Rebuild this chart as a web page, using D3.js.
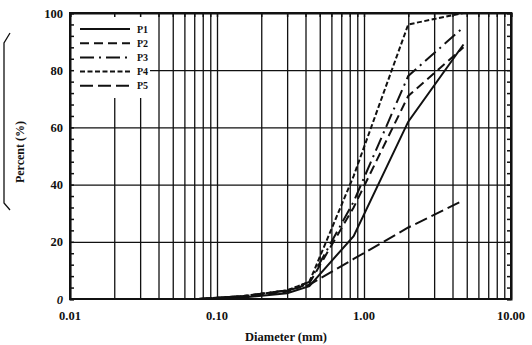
<!DOCTYPE html>
<html lang="en">
<head>
<meta charset="UTF-8">
<script src="https://d3js.org/d3.v7.min.js"></script>
<style>
  body { margin: 0; background: #fff; }
  svg text { font-family: "Liberation Serif", "Times New Roman", serif; font-weight: bold; fill: #111; }
</style>
</head>
<body>
<svg id="chart" width="532" height="345"></svg>
<script>
// sieve sizes (mm) and percent passing for each sample
const sieves = [0.075, 0.15, 0.3, 0.425, 0.85, 2.0, 4.75];
const P1 = [0, 0.5, 2, 4.5, 22, 62, 89];
const P2 = [0, 1, 2.5, 5.5, 32, 71, 88];
const P3 = [0, 1, 3, 6, 34, 78, 95];
const P4 = [0, 1, 3, 6, 43, 96, 100];
const P5 = [0, 1, 3, 5, 14, 25, 34.5];
const seriesNames = ["P1", "P2", "P3", "P4", "P5"];
const xTickLabels = ["0.01", "0.10", "1.00", "10.00"];
const yTicks = [0, 20, 40, 60, 80, 100];

const dashes = { P1: null, P2: "9,5", P3: "14,5,2,5", P4: "5,2.5", P5: "13,5" };
const seriesData = { P1, P2, P3, P4, P5 };

const margin = { left: 70, right: 21, top: 13, bottom: 46 };
const W = 532, H = 345;
const svg = d3.select("#chart");

const x = d3.scaleLog().domain([0.01, 10]).range([margin.left, W - margin.right]);
const y = d3.scaleLinear().domain([0, 100]).range([H - margin.bottom, margin.top]);

// log grid values 0.01..10
const logVals = [];
[0.01, 0.1, 1].forEach(d => { for (let k = 1; k <= 9; k++) logVals.push(+(d * k).toFixed(4)); });
logVals.push(10);

// vertical grid
svg.append("g")
  .attr("transform", `translate(0,${y(0)})`)
  .call(d3.axisBottom(x).tickValues(logVals).tickSize(-(y(0) - y(100))).tickFormat(""))
  .call(g => g.select(".domain").remove())
  .call(g => g.selectAll("line").attr("stroke", "#111").attr("stroke-width", 1.3));

// horizontal grid
svg.append("g")
  .attr("transform", `translate(${x(0.01)},0)`)
  .call(d3.axisLeft(y).tickValues([20, 40, 60, 80]).tickSize(-(x(10) - x(0.01))).tickFormat(""))
  .call(g => g.select(".domain").remove())
  .call(g => g.selectAll("line").attr("stroke", "#111").attr("stroke-width", 1.3));

// curves
const line = d3.line().x(d => x(d[0])).y(d => y(d[1]));
seriesNames.forEach(name => {
  const pts = sieves.map((s, i) => [s, seriesData[name][i]]);
  svg.append("path")
    .datum(pts)
    .attr("d", line)
    .attr("fill", "none")
    .attr("stroke", "#111")
    .attr("stroke-width", 2)
    .attr("stroke-dasharray", dashes[name]);
});

// legend (white box hides grid)
const leg = svg.append("g");
leg.append("rect").attr("x", x(0.01) + 1).attr("y", y(100) + 1).attr("width", 79).attr("height", 84).attr("fill", "#fff");
seriesNames.forEach((name, i) => {
  const ly = 29 + i * 14.2;
  leg.append("line").attr("x1", 80).attr("x2", 130).attr("y1", ly).attr("y2", ly)
    .attr("stroke", "#111").attr("stroke-width", 2).attr("stroke-dasharray", dashes[name]);
  leg.append("text").attr("x", 137).attr("y", ly + 3.5).attr("font-size", 10).text(name);
});

// frame with inward minor ticks
const minorY = d3.range(0, 101, 4);
svg.append("g").attr("transform", `translate(${x(0.01)},0)`)
  .call(d3.axisRight(y).tickValues(minorY).tickSize(4).tickFormat(""))
  .call(g => g.selectAll("line").attr("stroke", "#111").attr("stroke-width", 1.5));
svg.append("g").attr("transform", `translate(${x(10)},0)`)
  .call(d3.axisLeft(y).tickValues(minorY).tickSize(4).tickFormat(""))
  .call(g => g.selectAll("line").attr("stroke", "#111").attr("stroke-width", 1.5));
svg.append("g").attr("transform", `translate(0,${y(100)})`)
  .call(d3.axisBottom(x).tickValues(logVals).tickSize(4).tickFormat(""))
  .call(g => g.selectAll("line").attr("stroke", "#111").attr("stroke-width", 1.5));
svg.append("rect")
  .attr("x", x(0.01)).attr("y", y(100))
  .attr("width", x(10) - x(0.01)).attr("height", y(0) - y(100))
  .attr("fill", "none").attr("stroke", "#111").attr("stroke-width", 2);
svg.selectAll(".domain").attr("stroke", "#111").attr("stroke-width", 2);

// y labels
svg.append("g").selectAll("text").data(yTicks).join("text")
  .attr("x", x(0.01) - 7).attr("y", d => y(d) + 4.5)
  .attr("text-anchor", "end").attr("font-size", 12.5)
  .attr("font-style", d => d === 0 ? "italic" : null)
  .text(d => d);

// x labels
svg.append("g").selectAll("text").data(xTickLabels).join("text")
  .attr("x", d => x(+d)).attr("y", 320)
  .attr("text-anchor", "middle").attr("font-size", 12.5)
  .text(d => d);

// axis titles
svg.append("text").attr("x", 286).attr("y", 341).attr("text-anchor", "middle")
  .attr("font-size", 12.5).text("Diameter (mm)");
svg.append("text").attr("transform", "translate(24,152) rotate(-90)")
  .attr("text-anchor", "middle").attr("font-size", 12).text("Percent (%)");

// bracket on the left
svg.append("path").attr("d", "M10,33 L4,43 L4,203 L10,210")
  .attr("fill", "none").attr("stroke", "#111").attr("stroke-width", 1.3);
</script>
</body>
</html>
